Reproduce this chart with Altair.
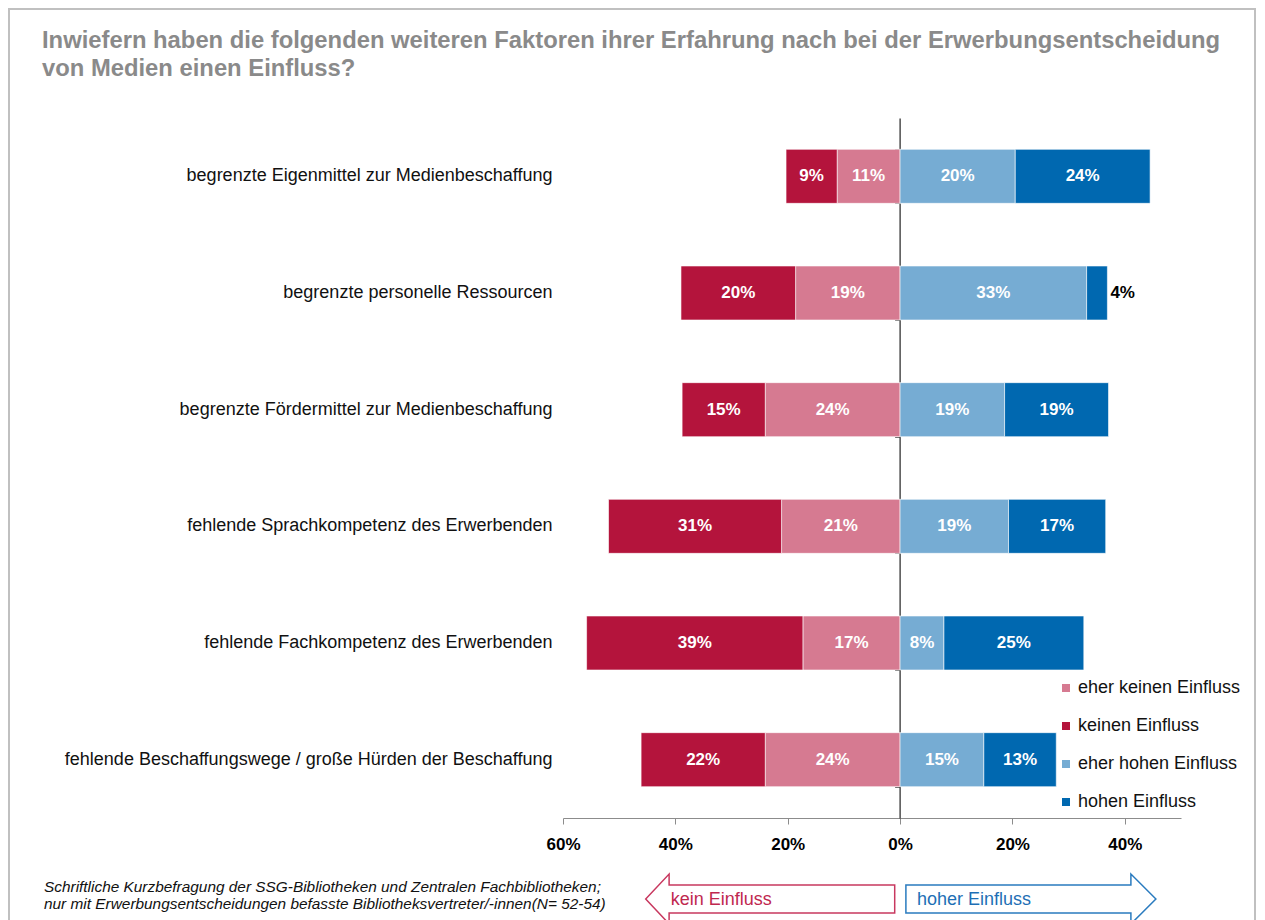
import altair as alt
import pandas as pd

categories = [
    "begrenzte Eigenmittel zur Medienbeschaffung",
    "begrenzte personelle Ressourcen",
    "begrenzte Fördermittel zur Medienbeschaffung",
    "fehlende Sprachkompetenz des Erwerbenden",
    "fehlende Fachkompetenz des Erwerbenden",
    "fehlende Beschaffungswege / große Hürden der Beschaffung",
]
keinen = [9.1, 20.4, 14.8, 30.8, 38.5, 22.1]
eher_keinen = [11.2, 18.6, 24.0, 21.1, 17.3, 24.0]
eher_hohen = [20.5, 33.2, 18.6, 19.3, 7.8, 14.9]
hohen = [24.0, 3.7, 18.5, 17.3, 24.9, 12.9]

keinen_lbl = [9, 20, 15, 31, 39, 22]
eher_keinen_lbl = [11, 19, 24, 21, 17, 24]
eher_hohen_lbl = [20, 33, 19, 19, 8, 15]
hohen_lbl = [24, 4, 19, 17, 25, 13]

legend_order = ["eher keinen Einfluss", "keinen Einfluss", "eher hohen Einfluss", "hohen Einfluss"]
legend_colors = ["#D67A91", "#B4143C", "#76ACD3", "#0068B0"]

x_ticks = [-60, -40, -20, 0, 20, 40]

title_text = ("Inwiefern haben die folgenden weiteren Faktoren ihrer Erfahrung nach bei der Erwerbungsentscheidung\n"
              "von Medien einen Einfluss?")
footer_text = ("Schriftliche Kurzbefragung der SSG-Bibliotheken und Zentralen Fachbibliotheken;\n"
               "nur mit Erwerbungsentscheidungen befasste Bibliotheksvertreter/-innen(N= 52-54)")

rows = []
for i, c in enumerate(categories):
    ek, k, eh, h = eher_keinen[i], keinen[i], eher_hohen[i], hohen[i]
    rows.append(dict(category=c, typ="eher keinen Einfluss", start=-ek, end=0.0, lbl=eher_keinen_lbl[i]))
    rows.append(dict(category=c, typ="keinen Einfluss", start=-(ek + k), end=-ek, lbl=keinen_lbl[i]))
    rows.append(dict(category=c, typ="eher hohen Einfluss", start=0.0, end=eh, lbl=eher_hohen_lbl[i]))
    rows.append(dict(category=c, typ="hohen Einfluss", start=eh, end=eh + h, lbl=hohen_lbl[i]))
df = pd.DataFrame(rows)
df["mid"] = (df["start"] + df["end"]) / 2
df["width"] = df["end"] - df["start"]
df["label"] = df["lbl"].astype(str) + "%"

FONT = "Liberation Sans"

x_scale = alt.Scale(domain=[-60, 50], nice=False, zero=False)
x_axis = alt.Axis(values=x_ticks, labelExpr="abs(datum.value) + '%'", title=None, grid=False,
                  domainColor="#8C8C8C", tickColor="#8C8C8C", tickSize=6, labelFontSize=17,
                  labelFontWeight="bold", labelColor="#000000", labelPadding=12, labelFont=FONT,
                  labelFlush=False)
y_scale = alt.Scale(paddingInner=0.537, paddingOuter=0.2685)
y_axis_main = alt.Axis(orient="left", title=None, domain=False, ticks=False, labelFontSize=18,
                       labelColor="#111111", labelPadding=11, labelFont=FONT, labelLimit=600)

base = alt.Chart(df)

bars = base.mark_bar(stroke="white", strokeWidth=0.6).encode(
    x=alt.X("start:Q", scale=x_scale, axis=x_axis),
    x2="end:Q",
    y=alt.Y("category:N", sort=categories, scale=y_scale, axis=y_axis_main),
    color=alt.Color("typ:N", scale=alt.Scale(domain=legend_order, range=legend_colors),
                    legend=alt.Legend(title=None, orient="none", legendX=494, legendY=561,
                                      symbolType="square", symbolSize=64, symbolStrokeWidth=0,
                                      labelFontSize=18, labelFont=FONT, labelColor="#111111",
                                      labelLimit=400, rowPadding=20, labelOffset=3, padding=0)),
)

text_in = base.transform_filter("datum.width >= 5").mark_text(
    fontWeight="bold", fontSize=17, color="white", baseline="middle", font=FONT
).encode(
    x=alt.X("mid:Q", scale=x_scale, axis=x_axis),
    y=alt.Y("category:N", sort=categories, scale=y_scale, axis=None),
    text="label:N",
)

text_out = base.transform_filter("datum.width < 5").mark_text(
    fontWeight="bold", fontSize=17, color="black", baseline="middle", align="left", dx=3, font=FONT
).encode(
    x=alt.X("end:Q", scale=x_scale, axis=x_axis),
    y=alt.Y("category:N", sort=categories, scale=y_scale, axis=None),
    text="label:N",
)

zero_axis = base.mark_rule(strokeOpacity=0).encode(
    x=alt.X("end:Q", scale=x_scale, axis=x_axis),
    y=alt.Y("category:N", sort=categories, scale=y_scale,
            axis=alt.Axis(orient="left", offset=-336.6, labels=False, title=None, grid=False,
                          domain=True, domainColor="#222222", domainWidth=1.2,
                          ticks=True, tickBand="extent", tickSize=5, tickColor="#666666")),
)

one = pd.DataFrame({"t": [""]})

frame = alt.Chart(one).mark_rect(fillOpacity=0, stroke="#C0C0C0", strokeWidth=2).encode(
    x=alt.value(-554), x2=alt.value(692), y=alt.value(-109), y2=alt.value(830)
)

title = alt.Chart(pd.DataFrame({"t": [title_text]})).mark_text(
    align="left", baseline="alphabetic", fontSize=23.8, fontWeight="bold", color="#8A8A8A",
    lineBreak="\n", lineHeight=28, font=FONT
).encode(x=alt.value(-521), y=alt.value(-70), text="t:N")

footer = alt.Chart(pd.DataFrame({"t": [footer_text]})).mark_text(
    align="left", baseline="alphabetic", fontSize=15.4, fontStyle="italic", color="#111111",
    lineBreak="\n", lineHeight=17, font=FONT
).encode(x=alt.value(-519), y=alt.value(774), text="t:N")

left_arrow_path = "M-1,0 L-0.812,-0.2 L-0.812,-0.1124 L1,-0.1124 L1,0.1124 L-0.812,0.1124 L-0.812,0.2 Z"
right_arrow_path = "M1,0 L0.8,-0.2 L0.8,-0.112 L-1,-0.112 L-1,0.112 L0.8,0.112 L0.8,0.2 Z"

arrow_left = alt.Chart(one).mark_point(
    shape=left_arrow_path, size=249 * 249, filled=False, stroke="#C8385F", strokeWidth=1.5, opacity=1
).encode(x=alt.value(207.2), y=alt.value(781))

arrow_right = alt.Chart(one).mark_point(
    shape=right_arrow_path, size=250 * 250, filled=False, stroke="#2A7BBF", strokeWidth=1.5, opacity=1
).encode(x=alt.value(467.9), y=alt.value(781))

arrow_text_left = alt.Chart(pd.DataFrame({"t": ["kein Einfluss"]})).mark_text(
    align="left", baseline="alphabetic", fontSize=18, color="#C0284F", font=FONT
).encode(x=alt.value(107.8), y=alt.value(787), text="t:N")

arrow_text_right = alt.Chart(pd.DataFrame({"t": ["hoher Einfluss"]})).mark_text(
    align="left", baseline="alphabetic", fontSize=18, color="#1E6FB5", font=FONT
).encode(x=alt.value(354), y=alt.value(787), text="t:N")

chart = alt.layer(
    frame, bars, text_in, text_out, zero_axis, title, footer,
    arrow_left, arrow_right, arrow_text_left, arrow_text_right
).resolve_axis(y="independent").properties(
    width=618, height=700,
    autosize=alt.AutoSizeParams(type="none"),
    padding={"left": 555, "top": 110, "right": 76, "bottom": 102},
).configure(font=FONT, view=alt.ViewConfig(stroke=None))

chart.save("out.html", embed_options={"renderer": "svg", "actions": False})
